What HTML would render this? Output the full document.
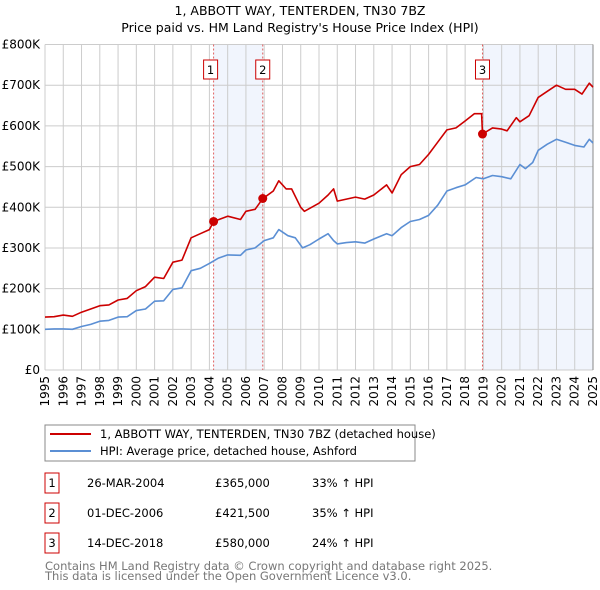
<!DOCTYPE html>
<html><head><meta charset="utf-8"><style>
body{margin:0;background:#fff;}
svg{display:block;font-family:"DejaVu Sans","Liberation Sans",sans-serif;}
</style></head><body>
<svg id="c" width="600" height="590" viewBox="0 0 600 590">
<text x="300" y="15" text-anchor="middle" font-size="12.5">1, ABBOTT WAY, TENTERDEN, TN30 7BZ</text>
<text x="300" y="32" text-anchor="middle" font-size="12.5">Price paid vs. HM Land Registry's House Price Index (HPI)</text>
<g id="plot"></g>
<rect x="45" y="425" width="370" height="36" fill="#fff" stroke="#888"/>
<line x1="50" y1="434" x2="91" y2="434" stroke="#cc0000" stroke-width="2"/>
<text x="100" y="438" font-size="11.5">1, ABBOTT WAY, TENTERDEN, TN30 7BZ (detached house)</text>
<line x1="50" y1="451" x2="91" y2="451" stroke="#5b8fd4" stroke-width="2"/>
<text x="100" y="455" font-size="11.5">HPI: Average price, detached house, Ashford</text>
<g id="tbl" font-size="11.5"></g>
<text x="45" y="570" font-size="11.5" fill="#777">Contains HM Land Registry data © Crown copyright and database right 2025.</text>
<text x="45" y="580" font-size="11.5" fill="#777">This data is licensed under the Open Government Licence v3.0.</text>
</svg>
<script>
const yearTicks=[1995,1996,1997,1998,1999,2000,2001,2002,2003,2004,2005,2006,2007,2008,2009,2010,2011,2012,2013,2014,2015,2016,2017,2018,2019,2020,2021,2022,2023,2024,2025];
const priceTicks=[0,100,200,300,400,500,600,700,800];
const priceTickLabels=["£0","£100K","£200K","£300K","£400K","£500K","£600K","£700K","£800K"];
const hpiYears=[1995,1995.5,1996,1996.5,1997,1997.5,1998,1998.5,1999,1999.5,2000,2000.5,2001,2001.5,2002,2002.5,2003,2003.5,2004,2004.5,2005,2005.7,2006,2006.5,2007,2007.5,2007.8,2008.3,2008.7,2009.1,2009.5,2010,2010.5,2010.8,2011,2011.5,2012,2012.5,2013,2013.7,2014,2014.5,2015,2015.5,2016,2016.5,2017,2017.5,2018,2018.6,2019,2019.5,2020,2020.5,2021,2021.3,2021.7,2022,2022.5,2023,2023.5,2024,2024.5,2024.8,2025];
const hpiValues=[100,101,101,100,107,112,120,122,130,131,146,150,169,170,198,202,244,250,262,275,283,282,295,300,318,325,345,330,325,300,308,322,335,318,310,313,315,312,322,335,330,350,365,370,380,405,440,448,455,473,470,478,475,470,505,495,510,540,555,567,560,552,548,567,558];
const propYears=[1995,1995.5,1996,1996.5,1997,1997.5,1998,1998.5,1999,1999.5,2000,2000.5,2001,2001.5,2002,2002.5,2003,2003.5,2004,2004.23,2005,2005.7,2006,2006.5,2006.92,2007.5,2007.8,2008.2,2008.5,2009,2009.2,2010,2010.5,2010.8,2011,2011.5,2012,2012.5,2013,2013.7,2014,2014.5,2015,2015.5,2016,2016.5,2017,2017.5,2018,2018.5,2018.9,2018.95,2019.5,2020,2020.3,2020.8,2021,2021.5,2022,2022.5,2023,2023.5,2024,2024.4,2024.8,2025];
const propValues=[130,131,135,132,142,150,158,160,172,176,195,205,228,225,265,270,325,335,345,365,378,370,390,395,421,440,465,445,445,400,390,410,430,445,415,420,425,420,430,455,435,480,500,505,530,560,590,595,612,630,630,580,595,592,588,620,610,625,670,685,700,690,690,678,705,695];
const saleYears=[2004.23,2006.92,2018.95];
const saleValues=[365,421.5,580];
const saleLabels=["1","2","3"];
const saleDates=["26-MAR-2004","01-DEC-2006","14-DEC-2018"];
const salePrices=["£365,000","£421,500","£580,000"];
const saleDiffs=["33% ↑ HPI","35% ↑ HPI","24% ↑ HPI"];

const NS="http://www.w3.org/2000/svg";
const X0=45,X1=593,Y0=370,Y1=44.5;
const xs=t=>X0+(t-1995)/30*(X1-X0);
const ys=v=>Y0-v/800*(Y0-Y1);
function mk(tag,attrs,parent){const e=document.createElementNS(NS,tag);for(const k in attrs)e.setAttribute(k,attrs[k]);parent.appendChild(e);return e;}
const g=document.getElementById('plot');
// shaded regions
[[saleYears[0],saleYears[1]],[saleYears[2],2025]].forEach((r,i)=>{
 const e=mk('rect',{x:xs(r[0]),y:Y1,width:xs(r[1])-xs(r[0]),height:Y0-Y1,fill:'#eef3fc',opacity:0.8},g);
 
 
});
yearTicks.forEach(t=>{
 const l=mk('line',{x1:xs(t),x2:xs(t),y1:Y1,y2:Y0,stroke:'#ccc'},g);
 
 
 const tx=mk('text',{x:0,y:0,'font-size':12,'text-anchor':'end',transform:`translate(${xs(t)+4},${Y0+6}) rotate(-90)`},g);
 tx.textContent=t;
 
 
});
priceTicks.forEach((v,i)=>{
 const l=mk('line',{x1:X0,x2:X1,y1:ys(v),y2:ys(v),stroke:'#ccc'},g);
 
 
 const tx=mk('text',{x:X0-5,y:ys(v)+4,'font-size':12,'text-anchor':'end'},g);
 tx.textContent=priceTickLabels[i];
 
 
});
const ax=mk('line',{x1:X1,x2:X1,y1:Y1,y2:Y0,stroke:'#888'},g);


saleYears.forEach((t,i)=>{
 const l=mk('line',{x1:xs(t),x2:xs(t),y1:Y1,y2:Y0,stroke:'#e06060','stroke-dasharray':'2,2'},g);
 
 
 const b=mk('rect',{x:xs(t)-(i==2?10:8)-(i==2?0:0),y:60,width:14,height:19,fill:'#fff',stroke:'#cc0000'},g);
 b.setAttribute('x',xs(t)-(i==2?7:(i==0?10:7))-(i==1?0:0));
 
 
 const tx=mk('text',{x:+b.getAttribute('x')+7,y:74,'font-size':11.5,'text-anchor':'middle'},g);
 tx.textContent=saleLabels[i];
 
 
});
function line(xsArr,vs,col,name){
 const d=xsArr.map((t,i)=>(i?'L':'M')+xs(t).toFixed(1)+','+ys(vs[i]).toFixed(1)).join('');
 const p=mk('path',{d:d,fill:'none',stroke:col,'stroke-width':1.6,'stroke-linejoin':'round'},g);
 
 
}
line(hpiYears,hpiValues,'#5b8fd4','hpi-line');
line(propYears,propValues,'#cc0000','property-price-line');
saleYears.forEach((t,i)=>{
 const c=mk('circle',{cx:xs(t),cy:ys(saleValues[i]),r:4.5,fill:'#cc0000'},g);
 
 
});
const tb=document.getElementById('tbl');
saleYears.forEach((t,i)=>{
 const cy=483+30*i;
 const b=mk('rect',{x:45,y:cy-10,width:14,height:20,fill:'#fff',stroke:'#cc0000'},tb);
 
 
 [[52,saleLabels[i],'middle','table-row-number'],[87,saleDates[i],'start','table-row-date'],[215,salePrices[i],'start','table-row-price'],[312,saleDiffs[i],'start','table-row-hpi-diff']].forEach(c=>{
  const tx=mk('text',{x:c[0],y:cy+4,'text-anchor':c[2]},tb);
  tx.textContent=c[1];
  
  
 });
});
</script>
</body></html>
